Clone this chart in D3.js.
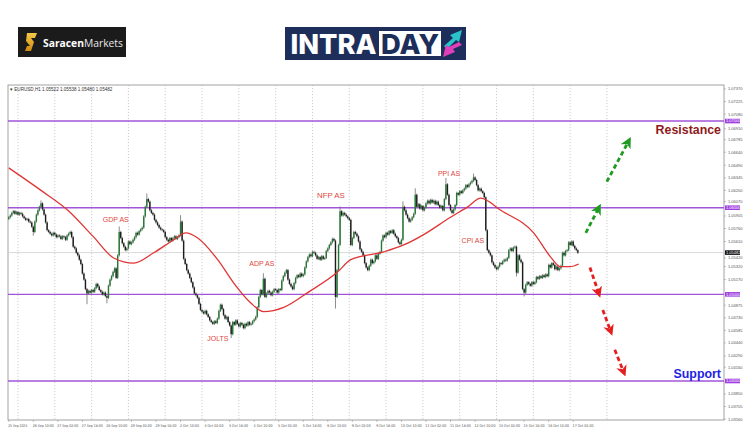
<!DOCTYPE html>
<html><head><meta charset="utf-8">
<script src="https://cdn.jsdelivr.net/npm/d3@7"></script>
<style>body{margin:0;background:#fff}svg{display:block}</style>
</head><body><svg id="c" width="750" height="430"></svg>
<script>
// ---- data (EURUSD H1) ----
const firstOpen = 1.0587;
const closes = [
1.0589,1.0591,1.0594,1.0596,1.0593,1.0595,1.0592,1.0594,1.0593,1.0590,
1.0588,1.0586,1.0587,1.0584,1.0583,1.0578,1.0572,1.0584,1.0592,1.0597,
1.0601,1.0605,1.0598,1.0592,1.0583,1.0574,1.0572,1.0570,1.0568,1.0571,
1.0569,1.0566,1.0568,1.0567,1.0564,1.0567,1.0566,1.0563,1.0568,1.0570,
1.0572,1.0566,1.0555,1.0553,1.0548,1.0545,1.0540,1.0535,1.0524,1.0517,
1.0506,1.0501,1.0504,1.0502,1.0505,1.0503,1.0507,1.0512,1.0509,1.0505,
1.0503,1.0500,1.0502,1.0498,1.0496,1.0510,1.0517,1.0521,1.0526,1.0530,
1.0519,1.0545,1.0572,1.0565,1.0559,1.0555,1.0551,1.0553,1.0561,1.0558,
1.0560,1.0563,1.0566,1.0571,1.0569,1.0573,1.0575,1.0577,1.0590,1.0601,
1.0610,1.0607,1.0597,1.0594,1.0592,1.0586,1.0583,1.0580,1.0577,1.0575,
1.0574,1.0572,1.0566,1.0563,1.0561,1.0565,1.0562,1.0565,1.0567,1.0564,
1.0566,1.0568,1.0584,1.0562,1.0541,1.0535,1.0528,1.0524,1.0519,1.0514,
1.0508,1.0501,1.0499,1.0496,1.0489,1.0482,1.0480,1.0478,1.0481,1.0477,
1.0474,1.0470,1.0468,1.0466,1.0469,1.0467,1.0472,1.0481,1.0488,1.0483,
1.0476,1.0472,1.0474,1.0468,1.0464,1.0454,1.0468,1.0465,1.0470,1.0466,
1.0463,1.0467,1.0465,1.0461,1.0466,1.0464,1.0468,1.0465,1.0466,1.0469,
1.0471,1.0474,1.0485,1.0497,1.0505,1.0500,1.0518,1.0497,1.0501,1.0504,
1.0502,1.0499,1.0503,1.0506,1.0505,1.0502,1.0506,1.0505,1.0516,1.0521,
1.0525,1.0528,1.0517,1.0512,1.0509,1.0506,1.0513,1.0519,1.0522,1.0520,
1.0524,1.0521,1.0523,1.0531,1.0538,1.0543,1.0546,1.0544,1.0549,1.0548,
1.0545,1.0541,1.0543,1.0540,1.0544,1.0541,1.0542,1.0550,1.0553,1.0557,
1.0560,1.0564,1.0562,1.0497,1.0528,1.0557,1.0596,1.0591,1.0594,1.0592,
1.0590,1.0588,1.0586,1.0557,1.0565,1.0572,1.0570,1.0567,1.0561,1.0552,
1.0549,1.0545,1.0536,1.0531,1.0528,1.0533,1.0540,1.0536,1.0538,1.0545,
1.0541,1.0547,1.0549,1.0562,1.0568,1.0566,1.0571,1.0569,1.0573,1.0571,
1.0574,1.0570,1.0567,1.0565,1.0560,1.0558,1.0563,1.0601,1.0597,1.0592,
1.0588,1.0584,1.0586,1.0589,1.0593,1.0615,1.0601,1.0604,1.0599,1.0602,
1.0597,1.0600,1.0605,1.0608,1.0605,1.0609,1.0606,1.0608,1.0604,1.0607,
1.0603,1.0600,1.0602,1.0597,1.0610,1.0627,1.0615,1.0603,1.0597,1.0594,
1.0598,1.0603,1.0617,1.0615,1.0619,1.0617,1.0620,1.0622,1.0626,1.0624,
1.0627,1.0629,1.0631,1.0635,1.0632,1.0626,1.0620,1.0622,1.0619,1.0617,
1.0612,1.0574,1.0551,1.0548,1.0545,1.0537,1.0534,1.0531,1.0529,1.0532,
1.0536,1.0535,1.0538,1.0540,1.0539,1.0542,1.0551,1.0553,1.0550,1.0554,
1.0555,1.0525,1.0545,1.0540,1.0537,1.0506,1.0502,1.0511,1.0514,1.0512,
1.0510,1.0514,1.0512,1.0514,1.0520,1.0518,1.0521,1.0519,1.0522,1.0520,
1.0523,1.0521,1.0534,1.0531,1.0536,1.0534,1.0529,1.0532,1.0528,1.0530,
1.0533,1.0548,1.0545,1.0550,1.0551,1.0560,1.0557,1.0561,1.0556,1.0553,1.0551,1.0548
];
// bars whose wick reaches beyond the body: [bar, price]
const wickHighs = [[21,1.0607],[72,1.0577],[90,1.0615],[112,1.0590],[166,1.0523],[216,1.0600],[257,1.0606],[265,1.0621],[285,1.0633],[303,1.0638]];
const wickLows  = [[16,1.0569],[51,1.0490],[64,1.0491],[145,1.0451],[213,1.0485],[331,1.0522],[336,1.0499]];

const maIdx = [0,21,38.5,55.4,68.4,81.5,94.5,107.6,115.4,123.2,136.2,146.7,157.8,166.2,179.3,194.9,214.5,223,244.5,257.5,270.5,288,299.2,307.7,320.7,342.2,353.3,359.8,366,371.6];
const maVal = [1.0646,1.0620,1.0597,1.0566,1.0542,1.0536,1.0548,1.0563,1.0571,1.0565,1.0540,1.0513,1.0490,1.0480,1.0485,1.0502,1.0526,1.0540,1.0549,1.0557,1.0569,1.0589,1.0601,1.0611,1.0597,1.0571,1.0543,1.0532,1.0532,1.0535];

const levels = [1.07000,1.06000,1.05000,1.04000];
const bidPrice = 1.05482;
const priceTicks = [1.07370,1.07225,1.07080,1.06910,1.06785,1.06640,1.06490,1.06345,1.06200,1.06070,1.05905,1.05760,1.05610,1.05420,1.05320,1.05170,1.04875,1.04730,1.04585,1.04440,1.04290,1.04160,1.03850,1.03705,1.03560];
const dateLabels = ["25 Sep 2023","26 Sep 10:00","27 Sep 02:00","27 Sep 18:00","28 Sep 10:00","29 Sep 02:00","29 Sep 18:00","2 Oct 10:00","3 Oct 02:00","3 Oct 18:00","4 Oct 10:00","5 Oct 02:00","5 Oct 18:00","6 Oct 10:00","9 Oct 02:00","9 Oct 18:00","10 Oct 10:00","11 Oct 02:00","11 Oct 18:00","12 Oct 10:00","13 Oct 02:00","13 Oct 18:00","16 Oct 10:00","17 Oct 02:00"];
const labelEvery = 16;     // bars between time labels
const gridFirst = 6, gridEvery = 24, gridCount = 17; // daily separators
const events = [
  {t:"GDP AS", i:69.8, p:1.0583},
  {t:"JOLTS", i:136.3, p:1.04462},
  {t:"ADP AS", i:165, p:1.05327},
  {t:"NFP AS", i:210, p:1.0611},
  {t:"PPI AS", i:287, p:1.06366},
  {t:"CPI AS", i:302.6, p:1.05592}
];
const upArrows = [[376.2,1.0571,384.7,1.0600],[389.9,1.0630,404.2,1.0677]];
const downArrows = [[378.9,1.0531,384.7,1.0501],[387.3,1.0482,392.5,1.0457],[395.1,1.0436,401.0,1.0410]];
const header = "EURUSD,H1  1.05522 1.05538 1.05480 1.05482";

// ---- drawing ----
const svg = d3.select("#c");
const L=8, R=724, T=85, B=420;
const x = d3.scaleLinear().domain([-0.5,466.3]).range([L,R]);
const y = d3.scaleLinear().domain([1.0355,1.07416]).range([B,T]);
const font = "'Liberation Sans', Arial, sans-serif";
const narrow = "'Liberation Sans Narrow', 'DejaVu Sans Condensed', 'Liberation Sans', sans-serif";

svg.append("rect").attr("width",750).attr("height",430).attr("fill","#fff");

// logos
const lg = svg.append("g");
lg.append("rect").attr("x",18).attr("y",27).attr("width",108).attr("height",30).attr("fill","#1b1b1b");
const gd = svg.append("defs").append("linearGradient").attr("id","gold").attr("x1",0).attr("y1",0).attr("x2",0).attr("y2",1);
gd.append("stop").attr("offset","0").attr("stop-color","#f6c84a");
gd.append("stop").attr("offset","1").attr("stop-color","#d08a10");
lg.append("path").attr("d","M27,33 L37,33 L35,38 L31,38 L34,42 L31,51 L25,51 L27,46 L30,46 L26,41 Z").attr("fill","url(#gold)");
const st = lg.append("text").attr("x",43).attr("y",46.5).attr("font-family","'Open Sans', Arial, sans-serif").attr("font-size",10.3).attr("fill","#fff");
st.append("tspan").attr("font-weight","bold").text("Saracen");
st.append("tspan").attr("fill","#e8e8e8").text("Markets");

lg.append("rect").attr("x",285).attr("y",27).attr("width",181).attr("height",33).attr("fill","#1e2e5b");
lg.append("text").attr("x",290.5).attr("y",53.5).attr("font-family","Inter, 'Open Sans', sans-serif").attr("font-weight",800).attr("font-size",27.5).attr("fill","#fff").attr("textLength",86).attr("lengthAdjust","spacingAndGlyphs").text("INTRA");
lg.append("rect").attr("x",379).attr("y",31).attr("width",62).attr("height",25).attr("fill","#fff");
lg.append("text").attr("x",381).attr("y",53.5).attr("font-family","Inter, 'Open Sans', sans-serif").attr("font-weight",800).attr("font-size",27.5).attr("fill","#1e2e5b").attr("textLength",58).attr("lengthAdjust","spacingAndGlyphs").text("DAY");
lg.append("path").attr("d","M444,46 L453,38 L450,35 L462,30 L459,42 L456,40 L447,49 Z").attr("fill","#29c3c9");
lg.append("path").attr("d","M462,45 L453,49 L455,52 L443,57 L446,45 L449,47 L459,42 Z").attr("fill","#e13fb9");

// chart frame
const cg = svg.append("g");
cg.append("rect").attr("x",L).attr("y",T).attr("width",R-L).attr("height",B-T).attr("fill","none").attr("stroke","#8a8a8a").attr("stroke-width",0.8);

// vertical daily grid
const gridIdx = d3.range(gridCount).map(k=>gridFirst+k*gridEvery);
cg.selectAll(".vg").data(gridIdx).join("line")
  .attr("x1",d=>x(d)).attr("x2",d=>x(d)).attr("y1",T).attr("y2",B)
  .attr("stroke","#b8b8b8").attr("stroke-width",0.7).attr("stroke-dasharray","1.2,1.8");

// bid line
cg.append("line").attr("x1",L).attr("x2",R).attr("y1",y(bidPrice)).attr("y2",y(bidPrice)).attr("stroke","#cfcfcf").attr("stroke-width",0.8);

// level lines
cg.selectAll(".lv").data(levels).join("line")
  .attr("x1",L).attr("x2",R).attr("y1",d=>y(d)).attr("y2",d=>y(d))
  .attr("stroke","#a254d8").attr("stroke-width",1.4);

// candles
const hiMap = new Map(wickHighs), loMap = new Map(wickLows);
const bars = closes.map((c,i)=>{
  const o = i===0 ? firstOpen : closes[i-1];
  let h = Math.max(o,c), l = Math.min(o,c);
  if (hiMap.has(i)) h = Math.max(h, hiMap.get(i));
  if (loMap.has(i)) l = Math.min(l, loMap.get(i));
  return {i,o,c,h,l};
});
cg.selectAll(".wk").data(bars).join("line")
  .attr("x1",d=>x(d.i)).attr("x2",d=>x(d.i)).attr("y1",d=>y(d.h)-1.2).attr("y2",d=>y(d.l)+1.2)
  .attr("stroke","#6f6f6f").attr("stroke-width",0.8);
cg.selectAll(".bd").data(bars).join("rect")
  .attr("x",d=>x(d.i)-0.7).attr("width",1.4)
  .attr("y",d=>y(Math.max(d.o,d.c))).attr("height",d=>Math.max(0.8,Math.abs(y(d.o)-y(d.c))))
  .attr("fill",d=>d.c>=d.o?"#237a33":"#1c1c1c");

// moving average
const ma = maIdx.map((v,k)=>[v,maVal[k]]);
cg.append("path").attr("d",d3.line().x(d=>x(d[0])).y(d=>y(d[1])).curve(d3.curveMonotoneX)(ma))
  .attr("fill","none").attr("stroke","#e03535").attr("stroke-width",1.3);

// event labels
cg.selectAll(".ev").data(events).join("text")
  .attr("x",d=>x(d.i)).attr("y",d=>y(d.p)).attr("text-anchor","middle")
  .attr("font-family",font).attr("font-size",d=>d.t==="NFP AS"?7.8:7).attr("fill","#e0463c").text(d=>d.t);

// arrows
const defs = svg.append("defs");
function mk(id,col){
  defs.append("marker").attr("id",id).attr("markerUnits","userSpaceOnUse").attr("markerWidth",11).attr("markerHeight",11)
   .attr("viewBox","0 0 10 10").attr("refX",6).attr("refY",5).attr("orient","auto")
   .append("path").attr("d","M0,0 L10,5 L0,10 L3,5 Z").attr("fill",col);
}
mk("ag","#1f9a22"); mk("ar","#e51f1f");
cg.selectAll(".au").data(upArrows).join("line")
  .attr("x1",d=>x(d[0])).attr("y1",d=>y(d[1])).attr("x2",d=>x(d[2])).attr("y2",d=>y(d[3]))
  .attr("stroke","#1f9a22").attr("stroke-width",2.8).attr("stroke-dasharray","4.5,3").attr("marker-end","url(#ag)");
cg.selectAll(".ad").data(downArrows).join("line")
  .attr("x1",d=>x(d[0])).attr("y1",d=>y(d[1])).attr("x2",d=>x(d[2])).attr("y2",d=>y(d[3]))
  .attr("stroke","#e51f1f").attr("stroke-width",2.8).attr("stroke-dasharray","4.5,3").attr("marker-end","url(#ar)");

// Resistance / Support
cg.append("text").attr("x",721).attr("y",y(levels[0])+13).attr("text-anchor","end")
  .attr("font-family",font).attr("font-weight","bold").attr("font-size",12.4)
  .attr("fill","#8e1a1a").text("Resistance");
cg.append("text").attr("x",721).attr("y",y(levels[3])-3).attr("text-anchor","end")
  .attr("font-family",font).attr("font-weight","bold").attr("font-size",12.4)
  .attr("fill","#1e22e6").text("Support");

// header
cg.append("text").attr("x",10).attr("y",90.5).attr("font-family",font).attr("font-size",4.6).attr("fill","#333").text("\u25BE " + header);

// price axis
const ax = svg.append("g");
ax.selectAll(".pt").data(priceTicks).join("text")
  .attr("x",728).attr("y",d=>y(d)+1.4).attr("font-family",font).attr("font-size",4).attr("fill","#555")
  .text(d=>d.toFixed(5));
ax.selectAll(".ptk").data(priceTicks).join("line")
  .attr("x1",R).attr("x2",R+2).attr("y1",d=>y(d)).attr("y2",d=>y(d)).attr("stroke","#888").attr("stroke-width",0.5);
const boxes = levels.map(v=>({v,col:"#a13fe0"})).concat([{v:bidPrice,col:"#111"}]);
ax.selectAll(".bx").data(boxes).join("rect")
  .attr("x",R+1).attr("y",d=>y(d.v)-2.3).attr("width",15).attr("height",4.6).attr("fill",d=>d.col);
ax.selectAll(".bxt").data(boxes).join("text")
  .attr("x",R+2).attr("y",d=>y(d.v)+1.4).attr("font-family",font).attr("font-size",4).attr("fill","#fff")
  .text(d=>d.v.toFixed(5));

// time axis
ax.selectAll(".dt").data(dateLabels).join("text")
  .attr("x",(d,k)=>x(k*labelEvery)-0.6).attr("y",426.5).attr("font-family",narrow).attr("font-size",3.8).attr("fill","#555")
  .attr("textLength",d=>d.length>11?21:19).attr("lengthAdjust","spacingAndGlyphs")
  .text(d=>d);
ax.selectAll(".dtk").data(dateLabels).join("line")
  .attr("x1",(d,k)=>x(k*labelEvery)).attr("x2",(d,k)=>x(k*labelEvery)).attr("y1",B).attr("y2",B+2)
  .attr("stroke","#888").attr("stroke-width",0.5);
</script></body></html>
